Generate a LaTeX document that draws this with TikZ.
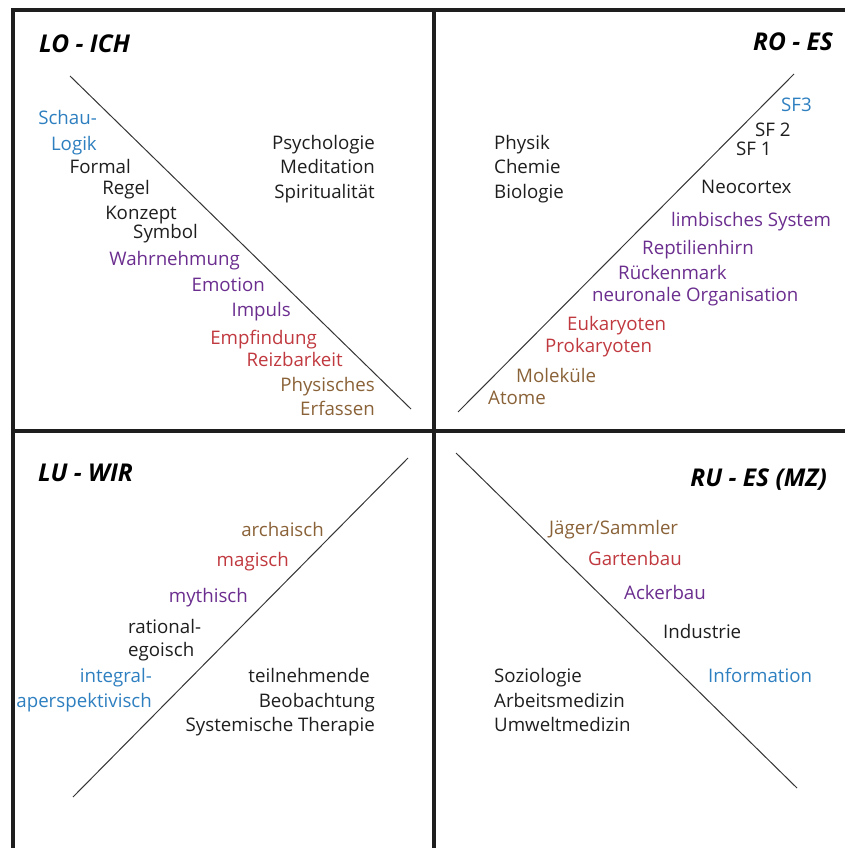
\documentclass[tikz,border=0pt]{standalone}
\usepackage{fontspec}
\setmainfont{Open Sans}
\definecolor{cblue}{HTML}{2E7FC0}
\definecolor{cpurple}{HTML}{6B2E8F}
\definecolor{cred}{HTML}{C0393F}
\definecolor{cbrown}{HTML}{8A6238}
\definecolor{cblack}{HTML}{1E1E1E}
\definecolor{frame}{HTML}{1E1E1E}
\begin{document}
\begin{tikzpicture}[x=1pt,y=-1pt,
  lbl/.style={inner sep=0pt, text=cblack, yshift=-1.5pt, font=\fontsize{18.7}{22}\selectfont},
  ttl/.style={inner sep=0pt, text=black, font=\fontsize{24.5}{28}\selectfont\bfseries\itshape},
  lb/.style={lbl, anchor=base east},
  lw/.style={lbl, anchor=base west},
  blu/.style={text=cblue}, pur/.style={text=cpurple}, rd/.style={text=cred}, brn/.style={text=cbrown},
  framed/.style={draw=frame, line width=4pt, line join=miter},
  diag/.style={draw=cblack!90, line width=1pt}]
\useasboundingbox (0,0) rectangle (845,848);
% frame
\coordinate (fbl) at (13,848);
\coordinate (ftl) at (13,10);
\coordinate (ftr) at (845,10);
\coordinate (vt) at (434,10);
\coordinate (vb) at (434,848);
\coordinate (hl) at (13,431);
\coordinate (hr) at (845,431);
\path[framed] (fbl) -- (ftl) -- (ftr);
\path[framed] (vt) -- (vb);
\path[framed] (hl) -- (hr);
% diagonals
\coordinate (d1a) at (70,76);  \coordinate (d1b) at (411,409);
\coordinate (d2a) at (794,74); \coordinate (d2b) at (458,412);
\coordinate (d3a) at (408,458); \coordinate (d3b) at (73,797);
\coordinate (d4a) at (456,453); \coordinate (d4b) at (797,788);
\path[diag] (d1a) -- (d1b);
\path[diag] (d2a) -- (d2b);
\path[diag] (d3a) -- (d3b);
\path[diag] (d4a) -- (d4b);
% titles
\node[ttl, anchor=base west] (t1) at (39,53) {LO - ICH};
\node[ttl, anchor=base east] (t2) at (833,51) {RO - ES};
\node[ttl, anchor=base west] (t3) at (38,481) {LU - WIR};
\node[ttl, anchor=base east] (t4) at (827,486) {RU - ES (MZ)};
% LO
\node[lb, blu] (a1) at (97,123) {Schau-};
\node[lb, blu] (a2) at (97,149) {Logik};
\node[lb] (a3) at (131,172) {Formal};
\node[lb] (a4) at (150,193) {Regel};
\node[lb] (a5) at (177,218) {Konzept};
\node[lb] (a6) at (198,237) {Symbol};
\node[lb, pur] (a7) at (240,264) {Wahrnehmung};
\node[lb, pur] (a8) at (265,290) {Emotion};
\node[lb, pur] (a9) at (291,315) {Impuls};
\node[lb, rd] (a10) at (317,343) {Empfindung};
\node[lb, rd] (a11) at (343,365) {Reizbarkeit};
\node[lb, brn] (a12) at (375,390) {Physisches};
\node[lb, brn] (a13) at (375,414) {Erfassen};
\node[lb] (a14) at (375,148) {Psychologie};
\node[lb] (a15) at (375,172) {Meditation};
\node[lb] (a16) at (375,197) {Spiritualität};
% RO
\node[lw, blu] (b1) at (781,110) {SF3};
\node[lw] (b2) at (755,135) {SF 2};
\node[lw] (b3) at (736,154) {SF 1};
\node[lw] (b4) at (701,192) {Neocortex};
\node[lw, pur] (b5) at (671,225) {limbisches System};
\node[lw, pur] (b6) at (642,253) {Reptilienhirn};
\node[lw, pur] (b7) at (618,278) {Rückenmark};
\node[lw, pur] (b8) at (592,300) {neuronale Organisation};
\node[lw, rd] (b9) at (567,329) {Eukaryoten};
\node[lw, rd] (b10) at (545,351) {Prokaryoten};
\node[lw, brn] (b11) at (516,381) {Moleküle};
\node[lw, brn] (b12) at (488,403) {Atome};
\node[lw] (b13) at (494,148) {Physik};
\node[lw] (b14) at (494,172) {Chemie};
\node[lw] (b15) at (494,197) {Biologie};
% LU
\node[lb, brn] (c1) at (324,535) {archaisch};
\node[lb, rd] (c2) at (289,565) {magisch};
\node[lb, pur] (c3) at (248,601) {mythisch};
\node[lw] (c4) at (128,632) {rational-};
\node[lw] (c5) at (128,655) {egoisch};
\node[lb, blu] (c6) at (152,681) {integral-};
\node[lb, blu] (c7) at (152,706) {aperspektivisch};
\node[lb] (c8) at (370,681) {teilnehmende};
\node[lb] (c9) at (375,706) {Beobachtung};
\node[lb] (c10) at (375,730) {Systemische Therapie};
% RU
\node[lw, brn] (e1) at (549,533) {Jäger/Sammler};
\node[lw, rd] (e2) at (588,564) {Gartenbau};
\node[lw, pur] (e3) at (624,598) {Ackerbau};
\node[lw] (e4) at (663,637) {Industrie};
\node[lw, blu] (e5) at (708,681) {Information};
\node[lw] (e6) at (494,681) {Soziologie};
\node[lw] (e7) at (494,706) {Arbeitsmedizin};
\node[lw] (e8) at (494,730) {Umweltmedizin};
\end{tikzpicture}
\end{document}
